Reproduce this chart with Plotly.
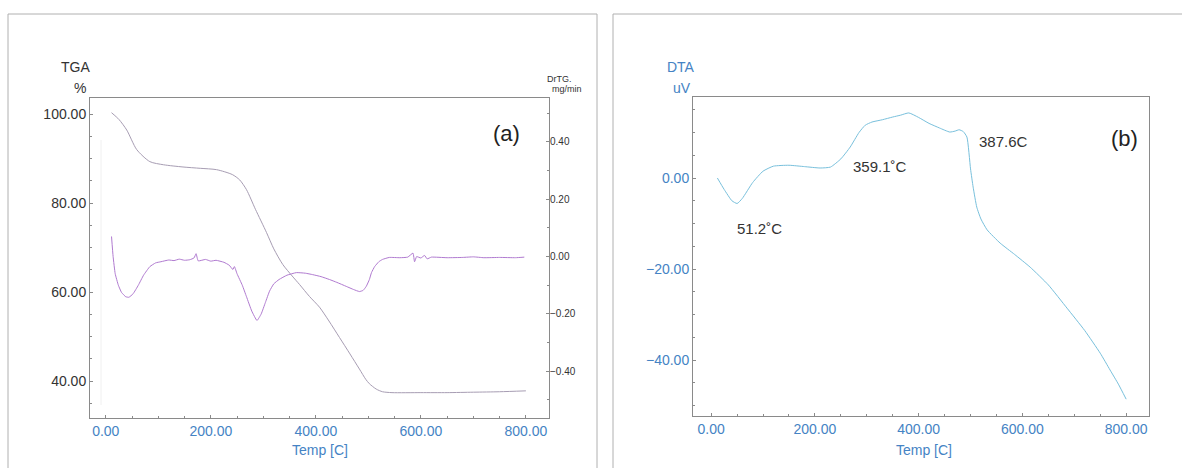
import plotly.graph_objects as go

W, H = 1182, 468

# ---------------- data ----------------
tga_temp = [11, 25, 40, 59, 84, 110, 147, 180, 211, 241, 255, 268, 285, 306, 320, 337, 355, 369, 388,
            407, 425, 445, 465, 483, 495, 502, 515, 527, 545, 600, 650, 700, 750, 800]
tga_pct = [100.3, 98.8, 96.4, 92.0, 89.3, 88.6, 88.1, 87.8, 87.5, 86.4, 85.2, 83.0, 78.6, 73.4, 69.7, 66.2,
           63.6, 61.7, 59.0, 56.6, 53.5, 49.8, 46.1, 42.7, 40.4, 39.4, 38.2, 37.6, 37.4, 37.4, 37.4, 37.5, 37.6, 37.8]

drtg_temp = [11, 14, 18, 24, 30, 38, 44, 52, 62, 72, 84, 95, 105, 120, 130, 140, 150, 160, 168, 172, 176,
             190, 200, 210, 225, 235, 242, 245, 250, 260, 268, 278, 288, 296, 304, 312, 320, 330, 345, 363,
             380, 394, 410, 426, 440, 458, 472, 483, 490, 496, 502, 506, 512, 520, 527, 540, 560, 575, 585,
             588, 592, 600, 607, 612, 620, 650, 680, 700, 720, 750, 780, 797]
drtg_val = [0.07, 0.0, -0.06, -0.10, -0.125, -0.14, -0.142, -0.13, -0.10, -0.065, -0.035, -0.022, -0.018,
            -0.012, -0.014, -0.009, -0.013, -0.011, -0.005, 0.01, -0.015, -0.01, -0.016, -0.013, -0.02,
            -0.03, -0.045, -0.035, -0.06, -0.10, -0.14, -0.19, -0.223, -0.20, -0.16, -0.12, -0.095, -0.08,
            -0.065, -0.056, -0.058, -0.063, -0.07, -0.08, -0.09, -0.104, -0.115, -0.122, -0.118, -0.104,
            -0.08, -0.056, -0.035, -0.018, -0.01, -0.003, -0.004, -0.002, 0.012, -0.018, 0.0, -0.005,
            0.004, -0.008, -0.002, -0.004, -0.003, -0.001, -0.004, -0.003, -0.004, -0.002]

dta_temp = [12, 25, 40, 50, 60, 80, 100, 120, 150, 180, 210, 230, 250, 268, 285, 297, 310, 330, 350,
            365, 381, 400, 420, 440, 460, 470, 478, 486, 493, 500, 505, 512, 520, 532, 557, 585, 615,
            650, 686, 720, 750, 769, 785, 800]
dta_uv = [0.0, -2.5, -5.0, -5.6, -4.5, -1.0, 1.5, 2.6, 2.8, 2.5, 2.2, 2.4, 4.2, 6.8, 10.0, 11.6, 12.3,
          12.8, 13.4, 13.8, 14.3, 13.3, 12.0, 11.0, 10.1, 10.3, 10.6, 10.2, 9.0, 2.0, -2.0, -6.4, -9.0,
          -11.4, -14.3, -16.8, -19.6, -23.5, -28.6, -33.5, -38.5, -42.2, -45.3, -48.6]

x_ticks = [0, 200, 400, 600, 800]
tga_ticks = [40, 60, 80, 100]
drtg_ticks = [-0.4, -0.2, 0.0, 0.2, 0.4]
dta_ticks = [-40, -20, 0]

peak_labels = ["51.2˚C", "359.1˚C", "387.6C"]

# ---------------- helpers ----------------
def px(x):
    return x / W

def py(y):
    return 1 - y / H

FONT = "Liberation Sans, Arial, sans-serif"
BLUE = "#4583c4"
DARK = "#333333"
AXC = "#8a8a8a"

fig = go.Figure()
fig.add_trace(go.Scatter(x=tga_temp, y=tga_pct, mode="lines", line=dict(color="#a79db3", width=1, shape="spline", smoothing=0.7),
                         xaxis="x", yaxis="y", hoverinfo="skip"))
fig.add_trace(go.Scatter(x=drtg_temp, y=drtg_val, mode="lines", line=dict(color="#b07ad0", width=1, shape="spline", smoothing=0.4),
                         xaxis="x", yaxis="y3", hoverinfo="skip"))
fig.add_trace(go.Scatter(x=dta_temp, y=dta_uv, mode="lines", line=dict(color="#78c0dc", width=1, shape="spline", smoothing=0.5),
                         xaxis="x2", yaxis="y2", hoverinfo="skip"))

common_axis = dict(showline=True, linecolor=AXC, linewidth=1, mirror=True, showgrid=False, zeroline=False,
                   ticks="inside", ticklen=3, tickcolor=AXC, fixedrange=True)

xtick_font = dict(family=FONT, size=14, color=BLUE)

fig.update_layout(
    width=W, height=H, margin=dict(l=0, r=0, t=0, b=0),
    paper_bgcolor="white", plot_bgcolor="white", showlegend=False,
    font=dict(family=FONT),
    xaxis=dict(domain=[px(90), px(549)], range=[-30, 844], anchor="y", tickvals=x_ticks, tickformat=".2f",
               tickfont=xtick_font, minor=dict(dtick=50, ticks="inside", ticklen=2, tickcolor=AXC), **common_axis),
    yaxis=dict(domain=[py(418), py(98)], range=[31.7, 103.6], anchor="x", tickvals=tga_ticks, tickformat=".2f",
               tickfont=dict(family=FONT, size=14, color=DARK),
               minor=dict(dtick=5, ticks="inside", ticklen=2, tickcolor=AXC), **common_axis),
    yaxis3=dict(overlaying="y", anchor="x", side="right", range=[-0.563, 0.553], tickvals=drtg_ticks,
                tickformat=".2f", tickfont=dict(family=FONT, size=10, color=DARK),
                showline=False, showgrid=False, zeroline=False, ticks="inside", ticklen=3, tickcolor=AXC,
                minor=dict(dtick=0.1, ticks="inside", ticklen=2, tickcolor=AXC), fixedrange=True),
    xaxis2=dict(domain=[px(693), px(1149)], range=[-35, 844], anchor="y2", tickvals=x_ticks, tickformat=".2f",
                tickfont=xtick_font, minor=dict(dtick=50, ticks="inside", ticklen=2, tickcolor=AXC), **common_axis),
    yaxis2=dict(domain=[py(416), py(97)], range=[-52.3, 17.8], anchor="x2", tickvals=dta_ticks, tickformat=".2f",
                tickfont=dict(family=FONT, size=14, color=BLUE),
                minor=dict(dtick=5, ticks="inside", ticklen=2, tickcolor=AXC), **common_axis),
)

# outer panel frames
fig.add_shape(type="rect", xref="paper", yref="paper", x0=px(8), x1=px(597), y0=py(470), y1=py(14),
              line=dict(color="#b0b0b0", width=1), layer="below")
fig.add_shape(type="rect", xref="paper", yref="paper", x0=px(613), x1=px(1184), y0=py(470), y1=py(14),
              line=dict(color="#b0b0b0", width=1), layer="below")
# very faint inner vertical line seen inside panel (a)
fig.add_shape(type="line", xref="paper", yref="paper", x0=px(101), x1=px(101), y0=py(405), y1=py(140),
              line=dict(color="#f0f0f0", width=1), layer="below")

def ann(text, x, y, size=14, color=DARK, xanchor="center", yanchor="middle"):
    fig.add_annotation(text=text, x=px(x), y=py(y), xref="paper", yref="paper", showarrow=False,
                       xanchor=xanchor, yanchor=yanchor, font=dict(family=FONT, size=size, color=color))

ann("TGA", 92, 67, 14, DARK, "right")
ann("%", 88, 88, 14, DARK, "right")
ann("DrTG.", 545, 79, 9, DARK, "left")
ann("mg/min", 550, 89, 9, DARK, "left")
ann("(a)", 506, 133, 22, "#222222")
ann("Temp [C]", 320, 450, 14, BLUE)

ann("DTA", 697, 67, 14, BLUE, "right")
ann("uV", 693, 88, 14, BLUE, "right")
ann("(b)", 1124, 138, 22, "#222222")
ann("Temp [C]", 924, 450, 14, BLUE)

ann(peak_labels[0], 759, 228, 15, DARK)
ann(peak_labels[1], 851, 166, 15, DARK, "left")
ann(peak_labels[2], 977, 141, 15, DARK, "left")

fig.write_html("out.html")
